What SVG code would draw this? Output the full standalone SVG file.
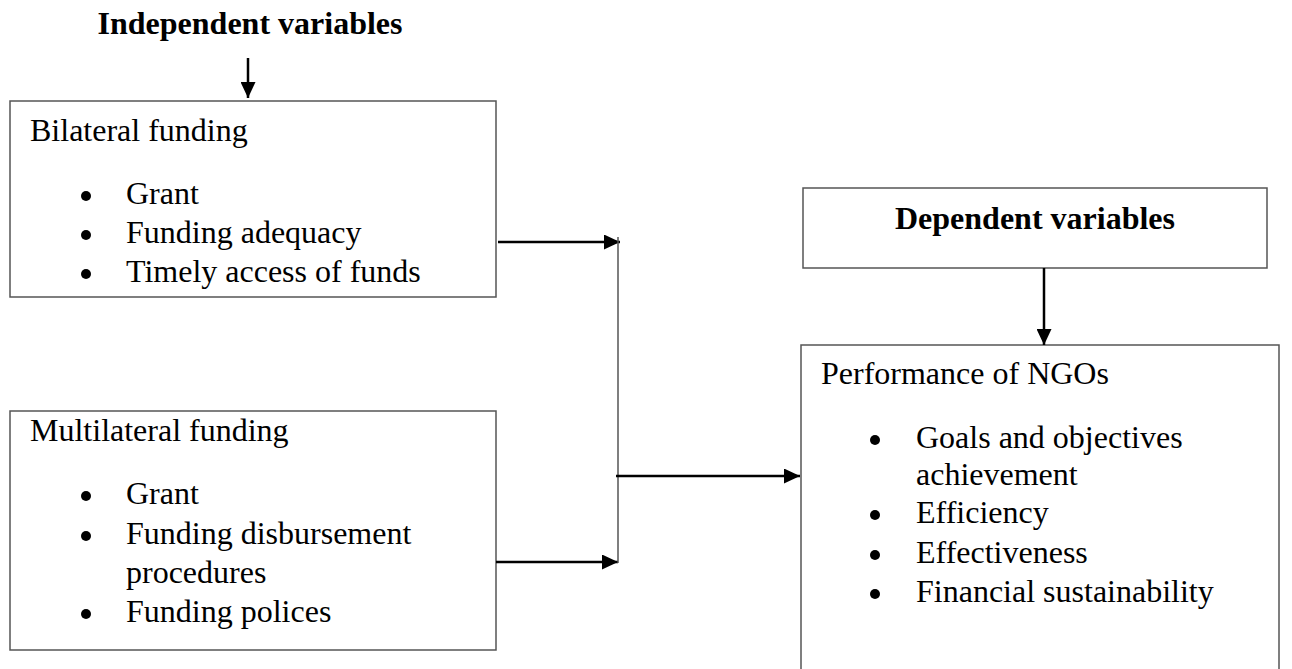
<svg xmlns="http://www.w3.org/2000/svg" width="1292" height="669" viewBox="0 0 1292 669">
<style>
text{font-family:"Liberation Serif","Times New Roman",serif;font-size:32px;fill:#000}
.b{font-weight:bold}
.box{fill:#fff;stroke:#555;stroke-width:1.5}
.con{stroke:#000;stroke-width:2.5;fill:none}
.bar{stroke:#555;stroke-width:1.5;fill:none}
.dot{fill:#000}
</style>
<defs>
<marker id="ah" markerUnits="userSpaceOnUse" markerWidth="16" markerHeight="15" refX="16" refY="7.5" orient="auto">
<path d="M0,0 L16,7.5 L0,15 z" fill="#000"/>
</marker>
</defs>
<rect width="1292" height="669" fill="#fff"/>
<g id="title-independent">
<text class="b" x="250" y="34" text-anchor="middle">Independent variables</text>
</g>
<g id="bilateral">
<rect class="box" x="10" y="101" width="486" height="196"/>
<text x="30" y="141">Bilateral funding</text>
<circle class="dot" cx="86" cy="196" r="5"/><text x="126" y="204">Grant</text>
<circle class="dot" cx="86" cy="235" r="5"/><text x="126" y="243">Funding adequacy</text>
<circle class="dot" cx="86" cy="274" r="5"/><text x="126" y="282">Timely access of funds</text>
</g>
<g id="multilateral">
<rect class="box" x="10" y="411" width="486" height="239"/>
<text x="30" y="441">Multilateral funding</text>
<circle class="dot" cx="86" cy="496" r="5"/><text x="126" y="504">Grant</text>
<circle class="dot" cx="86" cy="536" r="5"/><text x="126" y="544">Funding disbursement</text>
<text x="126" y="583">procedures</text>
<circle class="dot" cx="86" cy="614" r="5"/><text x="126" y="622">Funding polices</text>
</g>
<g id="dependent">
<rect class="box" x="803" y="188" width="464" height="80"/>
<text class="b" x="1035" y="229" text-anchor="middle">Dependent variables</text>
</g>
<g id="performance">
<rect class="box" x="801" y="345" width="478" height="340"/>
<text x="821" y="384">Performance of NGOs</text>
<circle class="dot" cx="875" cy="440" r="5"/><text x="916" y="448">Goals and objectives</text>
<text x="916" y="485">achievement</text>
<circle class="dot" cx="875" cy="515" r="5"/><text x="916" y="523">Efficiency</text>
<circle class="dot" cx="875" cy="555" r="5"/><text x="916" y="563">Effectiveness</text>
<circle class="dot" cx="875" cy="594" r="5"/><text x="916" y="602">Financial sustainability</text>
</g>
<g id="connectors">
<line class="con" x1="248" y1="58" x2="248" y2="98" marker-end="url(#ah)"/>
<line class="con" x1="498" y1="242" x2="620" y2="242" marker-end="url(#ah)"/>
<line class="con" x1="496" y1="562" x2="618" y2="562" marker-end="url(#ah)"/>
<line class="bar" x1="618" y1="237" x2="618" y2="563"/>
<line class="con" x1="616" y1="476" x2="800" y2="476" marker-end="url(#ah)"/>
<line class="con" x1="1044" y1="268" x2="1044" y2="345" marker-end="url(#ah)"/>
</g>
</svg>
